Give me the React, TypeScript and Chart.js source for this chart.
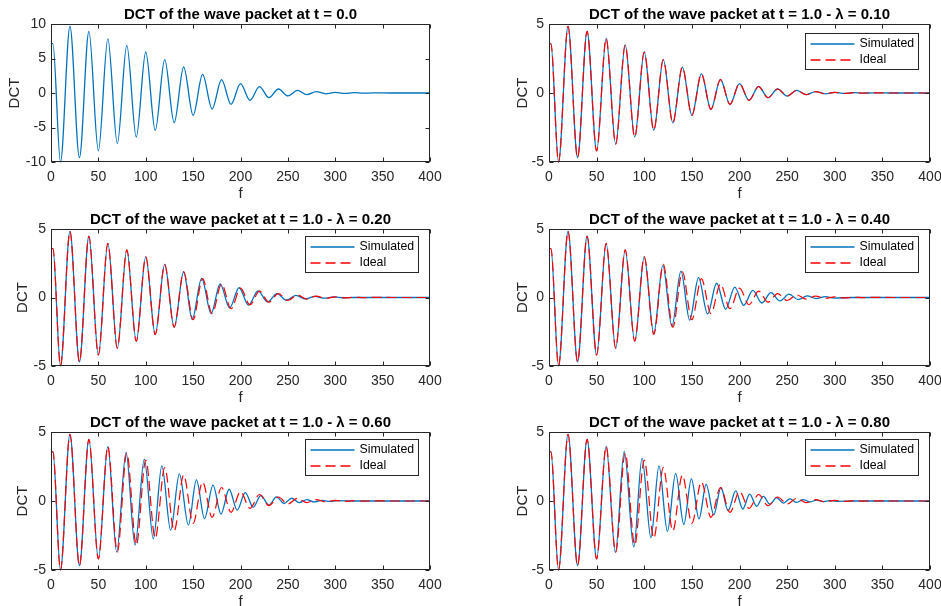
import React, { useEffect, useRef } from 'react';
import { Chart, registerables } from 'chart.js';

Chart.register(...registerables);

const FONT = "'Liberation Sans', Arial, Helvetica, sans-serif";
const AX = '#262626';
const BLUE = '#0072BD';
const RED = '#FF0000';

// x-axis ticks (f)
const xTicks = [0, 50, 100, 150, 200, 250, 300, 350, 400];

// t = 0.0 : extrema of the DCT
const t0F = [0, 2, 10, 20, 30, 40, 50, 60, 70, 80, 90, 100, 110, 120, 130, 140, 150, 160, 170, 180, 190, 200, 210, 220, 230, 240, 250, 260, 270, 280, 290, 300, 310, 320, 330, 340, 360, 400];
const t0V = [7.15, 7.15, -10.0, 9.66, -9.37, 8.94, -8.4, 7.83, -7.34, 6.9, -6.38, 5.94, -5.41, 4.83, -4.3, 3.77, -3.24, 2.7, -2.32, 1.93, -1.64, 1.35, -1.06, 0.92, -0.68, 0.58, -0.43, 0.37, -0.24, 0.2, -0.12, 0.1, -0.06, 0.05, -0.03, 0.02, 0, 0];

// t = 1.0 ideal
const idealF = [0, 2, 10, 20, 30, 40, 50, 60, 70, 80, 90, 100, 110, 120, 130, 140, 150, 160, 170, 180, 190, 200, 210, 220, 230, 240, 250, 260, 270, 280, 290, 300, 310, 320, 330, 340, 360, 400];
const idealV = [3.57, 3.57, -5.0, 4.83, -4.69, 4.47, -4.2, 3.95, -3.7, 3.48, -3.19, 2.97, -2.7, 2.42, -2.17, 1.88, -1.62, 1.38, -1.18, 0.98, -0.82, 0.68, -0.53, 0.47, -0.34, 0.29, -0.22, 0.19, -0.12, 0.1, -0.06, 0.05, -0.03, 0.02, -0.01, 0.01, 0, 0];

// simulated, lambda = 0.10
const sim010F = [0, 2, 10, 20, 30, 40, 50, 60, 70, 80, 90, 100, 110, 120, 130, 140, 150, 160, 170, 180, 190, 200, 210, 220, 230, 240, 250, 260, 270, 280, 290, 300, 310, 320, 330, 340, 360, 400];
const sim010V = [3.57, 3.57, -5.0, 4.83, -4.69, 4.47, -4.2, 3.95, -3.7, 3.48, -3.19, 2.97, -2.7, 2.42, -2.17, 1.88, -1.62, 1.38, -1.18, 0.98, -0.82, 0.68, -0.53, 0.47, -0.34, 0.29, -0.22, 0.19, -0.12, 0.1, -0.06, 0.05, -0.03, 0.02, -0.01, 0.01, 0, 0];

// simulated, lambda = 0.20
const sim020F = [0, 2, 10, 20, 30, 40, 50, 60, 70, 80, 90, 100, 110, 120, 130, 140, 149, 159, 169, 178.5, 188.5, 198.5, 208.5, 218.5, 228.5, 238.5, 248.5, 258.5, 268.5, 278.5, 288.5, 298.5, 308.5, 320, 360, 400];
const sim020V = [3.57, 3.57, -5.0, 4.83, -4.69, 4.47, -4.2, 3.95, -3.7, 3.48, -3.19, 2.97, -2.7, 2.42, -2.17, 1.88, -1.6, 1.4, -1.16, 1.0, -0.76, 0.71, -0.55, 0.48, -0.32, 0.28, -0.2, 0.16, -0.1, 0.08, -0.05, 0.04, -0.02, 0, 0, 0];

// simulated, lambda = 0.40
const sim040F = [0, 2, 10, 20, 30, 40, 50, 60, 70, 80, 90, 100, 110, 119.5, 129, 138.5, 147.7, 157, 166.5, 176, 185.5, 195, 204.5, 214, 223.5, 233, 242.5, 252, 261.5, 271, 280.5, 290, 299.5, 320, 360, 400];
const sim040V = [3.57, 3.57, -5.0, 4.83, -4.69, 4.47, -4.2, 3.95, -3.7, 3.48, -3.19, 2.97, -2.62, 2.35, -2.1, 1.92, -1.65, 1.45, -1.2, 1.04, -0.86, 0.76, -0.57, 0.52, -0.4, 0.35, -0.25, 0.24, -0.15, 0.12, -0.08, 0.06, -0.04, 0, 0, 0];

// simulated, lambda = 0.60
const sim060F = [0, 2, 10, 20, 30, 40, 50, 60, 69.3, 79.2, 88.7, 98.5, 108, 117, 126.3, 135.5, 145, 153.5, 162, 171, 179.4, 188, 196.5, 205, 213.5, 221.5, 230, 238, 246, 254, 262, 270, 278, 286, 294, 302, 320, 360, 400];
const sim060V = [3.57, 3.57, -5.0, 4.83, -4.69, 4.47, -4.2, 3.95, -3.69, 3.52, -3.2, 3.03, -2.75, 2.55, -2.11, 1.97, -1.75, 1.53, -1.28, 1.15, -0.95, 0.85, -0.66, 0.6, -0.45, 0.4, -0.3, 0.3, -0.18, 0.2, -0.12, 0.1, -0.07, 0.05, -0.03, 0.02, 0, 0, 0];

// simulated, lambda = 0.80
const sim080F = [0, 2, 10, 20, 30, 40, 50, 60, 69.7, 79, 89, 97.7, 107, 115.5, 124.3, 133, 141.5, 149.5, 157.5, 165, 173, 180.5, 188, 196, 203.5, 210.7, 218, 225, 232, 239, 246, 253, 260, 267, 274, 281, 288, 295, 302, 320, 360, 400];
const sim080V = [3.57, 3.57, -5.0, 4.83, -4.69, 4.47, -4.2, 3.95, -3.72, 3.6, -3.33, 3.1, -2.65, 2.55, -2.2, 2.0, -1.7, 1.6, -1.3, 1.2, -1.0, 0.98, -0.7, 0.73, -0.58, 0.5, -0.38, 0.33, -0.23, 0.25, -0.15, 0.15, -0.1, 0.1, -0.07, 0.07, -0.04, 0.03, -0.02, 0, 0, 0];

const toPts = (f: number[], v: number[]) => f.map((x, i) => ({ x, y: v[i] }));

const boxPlugin = {
  id: 'matlabBox',
  afterDatasetsDraw(chart: any) {
    const { ctx, chartArea: a, scales } = chart;
    const L = Math.round(a.left) + 0.5;
    const R = Math.round(a.right) - 0.5;
    const T = Math.round(a.top) + 0.5;
    const B = Math.round(a.bottom) - 0.5;
    const tl = 4;
    ctx.save();
    ctx.strokeStyle = AX;
    ctx.lineWidth = 1;
    ctx.setLineDash([]);
    ctx.strokeRect(L, T, R - L, B - T);
    ctx.beginPath();
    scales.x.ticks.forEach((t: any) => {
      const px = Math.round(scales.x.getPixelForValue(t.value)) + 0.5;
      ctx.moveTo(px, B); ctx.lineTo(px, B - tl);
      ctx.moveTo(px, T); ctx.lineTo(px, T + tl);
    });
    scales.y.ticks.forEach((t: any) => {
      const py = Math.round(scales.y.getPixelForValue(t.value)) + 0.5;
      ctx.moveTo(L, py); ctx.lineTo(L + tl, py);
      ctx.moveTo(R, py); ctx.lineTo(R - tl, py);
    });
    ctx.stroke();
    ctx.restore();
  },
};

const legendPlugin = {
  id: 'matlabLegend',
  afterDraw(chart: any, _args: any, opts: any) {
    if (!opts || !opts.show) return;
    const { ctx, chartArea: a } = chart;
    const w = 113;
    const h = 36;
    const x = Math.round(a.right - 12 - w) + 0.5;
    const y = Math.round(a.top + opts.top) + 0.5;
    ctx.save();
    ctx.fillStyle = '#ffffff';
    ctx.fillRect(x, y, w, h);
    ctx.strokeStyle = AX;
    ctx.lineWidth = 1;
    ctx.strokeRect(x, y, w, h);
    chart.data.datasets.forEach((ds: any, i: number) => {
      const cy = Math.round(y + 10 + i * 16.5);
      ctx.beginPath();
      ctx.setLineDash(ds.borderDash || []);
      ctx.strokeStyle = ds.borderColor;
      ctx.lineWidth = 1.3;
      ctx.moveTo(x + 5, cy);
      ctx.lineTo(x + 49, cy);
      ctx.stroke();
      ctx.setLineDash([]);
      ctx.fillStyle = '#000000';
      ctx.font = `12.3px ${FONT}`;
      ctx.textBaseline = 'middle';
      ctx.textAlign = 'left';
      ctx.fillText(ds.label, x + 54, cy);
    });
    ctx.restore();
  },
};

type PanelCfg = {
  left: number; top: number; w: number; h: number; padR: number;
  title: string; yMin: number; yMax: number; yTitlePad: number;
  mode: 't0' | 'sim'; simF?: number[]; simV?: number[]; legendTop?: number;
};

const panels: PanelCfg[] = [
  { left: 0, top: 0, w: 470, h: 204, padR: 40, title: 'DCT of the wave packet at t = 0.0', yMin: -10, yMax: 10, yTitlePad: 6.3, mode: 't0' },
  { left: 498, top: 0, w: 443, h: 204, padR: 11, title: 'DCT of the wave packet at t = 1.0 - λ = 0.10', yMin: -5, yMax: 5, yTitlePad: 16, mode: 'sim', simF: sim010F, simV: sim010V, legendTop: 8.7 },
  { left: 0, top: 205, w: 470, h: 203, padR: 40, title: 'DCT of the wave packet at t = 1.0 - λ = 0.20', yMin: -5, yMax: 5, yTitlePad: 14.2, mode: 'sim', simF: sim020F, simV: sim020V, legendTop: 6.5 },
  { left: 498, top: 205, w: 443, h: 203, padR: 11, title: 'DCT of the wave packet at t = 1.0 - λ = 0.40', yMin: -5, yMax: 5, yTitlePad: 16, mode: 'sim', simF: sim040F, simV: sim040V, legendTop: 6.5 },
  { left: 0, top: 408, w: 470, h: 204, padR: 40, title: 'DCT of the wave packet at t = 1.0 - λ = 0.60', yMin: -5, yMax: 5, yTitlePad: 14.2, mode: 'sim', simF: sim060F, simV: sim060V, legendTop: 6.5 },
  { left: 498, top: 408, w: 443, h: 204, padR: 11, title: 'DCT of the wave packet at t = 1.0 - λ = 0.80', yMin: -5, yMax: 5, yTitlePad: 16, mode: 'sim', simF: sim080F, simV: sim080V, legendTop: 6.5 },
];

function buildConfig(p: PanelCfg): any {
  const lineBase = { pointRadius: 0, fill: false, cubicInterpolationMode: 'monotone', clip: 1 };
  const datasets = p.mode === 't0'
    ? [{ ...lineBase, label: 'DCT', data: toPts(t0F, t0V), borderColor: BLUE, borderWidth: 1.3 }]
    : [
        { ...lineBase, label: 'Simulated', data: toPts(p.simF!, p.simV!), borderColor: BLUE, borderWidth: 1.3, order: 2 },
        { ...lineBase, label: 'Ideal', data: toPts(idealF, idealV), borderColor: RED, borderWidth: 1.2, borderDash: [10, 5], order: 1 },
      ];
  return {
    type: 'line',
    data: { datasets },
    options: {
      responsive: false,
      animation: false,
      events: [],
      layout: { padding: { left: 0, right: p.padR, top: 0, bottom: 0 } },
      plugins: {
        legend: { display: false },
        tooltip: { enabled: false },
        title: {
          display: true, text: p.title, fullSize: false, color: '#000000',
          font: { family: FONT, size: 15, weight: 'bold', lineHeight: 1.2 },
          padding: { top: 5.5, bottom: 0.5 },
        },
        matlabLegend: p.mode === 'sim' ? { show: true, top: p.legendTop } : { show: false },
      },
      scales: {
        x: {
          type: 'linear', min: 0, max: 400,
          afterBuildTicks: (s: any) => { s.ticks = xTicks.map((v) => ({ value: v })); },
          ticks: { color: AX, font: { family: FONT, size: 14 }, padding: 6.3, maxRotation: 0, autoSkip: false },
          grid: { display: false, drawTicks: false },
          border: { display: false },
          title: { display: true, text: 'f', color: AX, font: { family: FONT, size: 15 }, padding: { top: 0, bottom: 1.5 } },
          afterFit: (s: any) => { s.height = 42; s.paddingLeft = 0; s.paddingRight = 0; },
        },
        y: {
          type: 'linear', min: p.yMin, max: p.yMax,
          ticks: { stepSize: 5, color: AX, font: { family: FONT, size: 14 }, padding: 5 },
          grid: { display: false, drawTicks: false },
          border: { display: false },
          title: { display: true, text: 'DCT', color: AX, font: { family: FONT, size: 15 }, padding: { top: p.yTitlePad, bottom: 0 } },
          afterFit: (s: any) => { s.width = 51; s.paddingTop = 0; s.paddingBottom = 0; },
        },
      },
    },
    plugins: [boxPlugin, legendPlugin],
  };
}

function Panel({ cfg }: { cfg: PanelCfg }) {
  const ref = useRef<HTMLCanvasElement>(null);
  useEffect(() => {
    const chart = new Chart(ref.current as HTMLCanvasElement, buildConfig(cfg));
    return () => chart.destroy();
  }, [cfg]);
  return (
    <canvas
      ref={ref}
      width={cfg.w}
      height={cfg.h}
      style={{ position: 'absolute', left: cfg.left, top: cfg.top, width: cfg.w, height: cfg.h }}
    />
  );
}

export default function App() {
  return (
    <div style={{ position: 'absolute', left: 0, top: 0, width: 941, height: 606, background: '#ffffff', overflow: 'hidden' }}>
      {panels.map((p, i) => (
        <Panel key={i} cfg={p} />
      ))}
    </div>
  );
}
